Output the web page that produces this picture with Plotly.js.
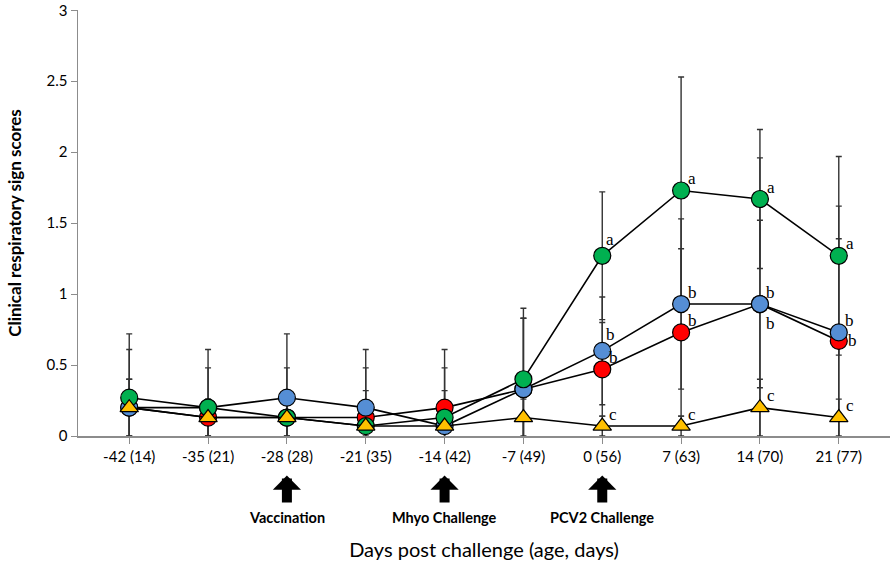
<!DOCTYPE html>
<html>
<head>
<meta charset="utf-8">
<script src="https://cdn.plot.ly/plotly-3.0.1.min.js"></script>
<style>
  body { margin: 0; background: #fff; }
  #graph { width: 893px; height: 565px; }
</style>
</head>
<body>
<div id="graph"></div>
<script>
/* days post challenge (age, days) */
const days = ["-42 (14)", "-35 (21)", "-28 (28)", "-21 (35)", "-14 (42)",
    "-7 (49)", "0 (56)", "7 (63)", "14 (70)", "21 (77)"];

/* mean clinical respiratory sign scores per group */
const redScore = [0.2, 0.13, 0.13, 0.13, 0.2, 0.33, 0.47, 0.73, 0.93, 0.67];
const blueScore = [0.2, 0.2, 0.27, 0.2, 0.07, 0.33, 0.6, 0.93, 0.93, 0.73];
const greenScore = [0.27, 0.2, 0.13, 0.07, 0.13, 0.4, 1.27, 1.73, 1.67, 1.27];
const yellowScore = [0.2, 0.13, 0.13, 0.07, 0.07, 0.13, 0.07, 0.07, 0.2, 0.13];

/* standard deviations */
const redSd = [0.2, 0.13, 0.13, 0.35, 0.41, 0.5, 0.33, 0.59, 0.59, 0.72];
const blueSd = [0.41, 0.28, 0.45, 0.41, 0.25, 0.5, 0.38, 0.6, 1.03, 0.89];
const greenSd = [0.45, 0.41, 0.35, 0.25, 0.35, 0.5, 0.45, 0.8, 0.49, 0.7];
const yellowSd = [0.2, 0.13, 0.13, 0.07, 0, 0.13, 0.07, 0.07, 0.2, 0.13];

/* significance letters */
const redLetters = ["", "", "", "", "", "", "b", "b", "b", "b"];
const blueLetters = ["", "", "", "", "", "", "b", "b", "b", "b"];
const greenLetters = ["", "", "", "", "", "", "a", "a", "a", "a"];
const yellowLetters = ["", "", "", "", "", "", "c", "c", "c", "c"];

/* events marked under the axis */
const eventDays = ["-28 (28)", "-14 (42)", "0 (56)"];
const eventNames = ["Vaccination", "Mhyo Challenge", "PCV2 Challenge"];

/* letter offsets (px) next to the marker; red ones sit lower where blue overlaps */
function letterShift(group, i) {
    if (group === "red" && days[i] === "14 (70)") return [11, -19];
    if (group === "red" && days[i] === "21 (77)") return [14, 0];
    if ((group === "green" || group === "blue") && days[i] === "0 (56)") return [8, 16];
    return [11, 12];
}

const groups = [
    { name: "red", y: redScore, sd: redSd, txt: redLetters, color: "#ff0000", symbol: "circle" },
    { name: "blue", y: blueScore, sd: blueSd, txt: blueLetters, color: "#558ed5", symbol: "circle" },
    { name: "green", y: greenScore, sd: greenSd, txt: greenLetters, color: "#00b050", symbol: "circle" },
    { name: "yellow", y: yellowScore, sd: yellowSd, txt: yellowLetters, color: "#ffc000", symbol: "triangle-up" },
];

const data = [];

/* error bars first so they sit behind all markers */
groups.forEach(function (g) {
    data.push({
        x: days,
        y: g.y,
        type: "scatter",
        mode: "markers",
        marker: { size: 1, opacity: 0 },
        error_y: { type: "data", array: g.sd, visible: true,
                   color: "#333333", thickness: 1.4, width: 3 },
        hoverinfo: "skip",
        showlegend: false,
    });
});

groups.forEach(function (g) {
    data.push({
        x: days,
        y: g.y,
        type: "scatter",
        mode: "lines+markers",
        line: { color: "#000000", width: 1.6 },
        marker: {
            color: g.color,
            symbol: g.symbol,
            size: g.symbol === "circle" ? 17 : 16,
            line: { color: "#000000", width: 1.2 },
        },
        showlegend: false,
    });
});

const annotations = [];

groups.forEach(function (g) {
    g.txt.forEach(function (t, i) {
        if (!t) return;
        const s = letterShift(g.name, i);
        annotations.push({
            x: days[i],
            y: g.y[i],
            xref: "x",
            yref: "y",
            text: t,
            showarrow: false,
            xanchor: "center",
            yanchor: "middle",
            xshift: s[0],
            yshift: s[1],
            font: { family: "Liberation Serif, serif", size: 17, color: "#000" },
        });
    });
});

eventDays.forEach(function (d, i) {
    annotations.push({
        x: d,
        xref: "x",
        y: -0.093,
        yref: "paper",
        text: "<b>" + eventNames[i] + "</b>",
        font: { family: "Lato, sans-serif", size: 14.5, color: "#000" },
        showarrow: true,
        arrowhead: 1,
        arrowsize: 0.47,
        arrowwidth: 10,
        arrowcolor: "#000000",
        ax: 0,
        ay: 42,
        startstandoff: 5,
    });
});

const layout = {
    width: 893,
    height: 565,
    margin: { l: 78, r: 3, t: 10, b: 129 },
    paper_bgcolor: "#ffffff",
    plot_bgcolor: "#ffffff",
    font: { family: "Lato, sans-serif", color: "#000" },
    xaxis: {
        type: "category",
        showgrid: false,
        showline: true,
        linecolor: "#8c8c8c",
        linewidth: 1.5,
        ticks: "outside",
        ticklen: 6,
        tickcolor: "#8c8c8c",
        tickfont: { size: 15 },
        zeroline: false,
        title: {
            text: "Days post challenge (age, days)",
            font: { size: 20 },
            standoff: 79,
        },
        automargin: true,
    },
    yaxis: {
        range: [0, 3.002],
        tick0: 0,
        dtick: 0.5,
        showgrid: false,
        showline: true,
        linecolor: "#8c8c8c",
        linewidth: 1.5,
        ticks: "outside",
        ticklen: 6,
        tickcolor: "#8c8c8c",
        tickfont: { size: 15 },
        ticklabeloverflow: "allow",
        zeroline: false,
        title: {
            text: "<b>Clinical respiratory sign scores</b>",
            font: { size: 17 },
            standoff: 20,
        },
        automargin: "left",
    },
    annotations: annotations,
};

Plotly.newPlot("graph", data, layout, { displayModeBar: false, staticPlot: true });
</script>
</body>
</html>
